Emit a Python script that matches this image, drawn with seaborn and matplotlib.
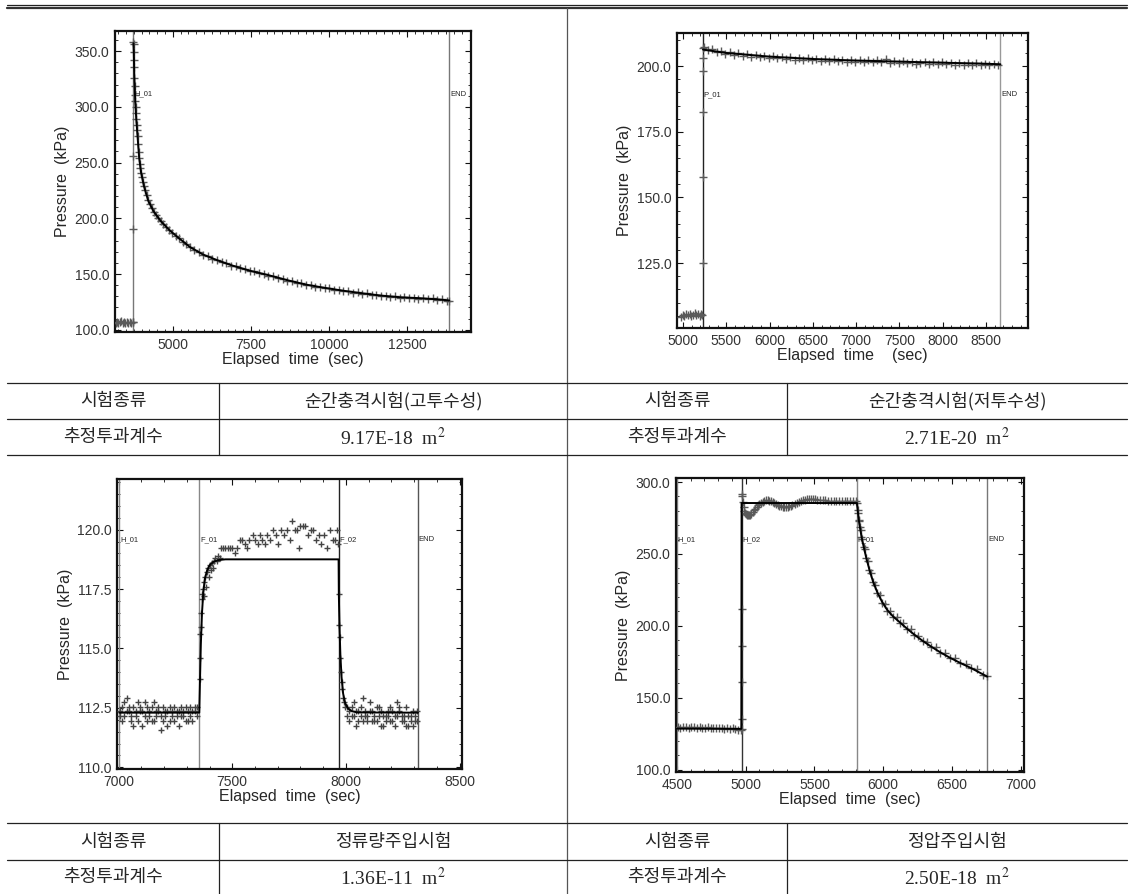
import matplotlib
matplotlib.use("Agg")
import matplotlib.pyplot as plt
from matplotlib.ticker import MultipleLocator, FormatStrFormatter
import seaborn as sns

# ---------------------------------------------------------------- data
# panel 1 : 순간충격시험(고투수성)
p1_base_t = [3170, 3215, 3260, 3305, 3350, 3395, 3440, 3485, 3530, 3575, 3620, 3665, 3710, 3735]
p1_base_p = [106.4, 107.3, 105.9, 106.8, 107.6, 106.1, 106.9, 105.8, 107.2, 106.5, 107.4, 106.0, 106.7, 107.0]
p1_jump_t = [3740, 3740, 3740]
p1_jump_p = [190.5, 256.0, 358.5]
p1_t = [3745, 3750, 3756, 3762, 3770, 3778, 3787, 3796, 3806, 3817, 3829, 3842, 3856, 3871, 3887,
        3904, 3922, 3941, 3962, 3985, 4010, 4040, 4075, 4115, 4160, 4210, 4265, 4325, 4390, 4460,
        4535, 4615, 4700, 4790, 4885, 4985, 5090, 5200, 5315, 5435, 5560, 5690, 5825, 5965,
        6110, 6260, 6410, 6560, 6710, 6860, 7010, 7160, 7310, 7460, 7610, 7760, 7910, 8060, 8210,
        8360, 8510, 8660, 8810, 8960, 9110, 9260, 9410, 9560, 9710, 9860, 10010, 10160, 10310,
        10460, 10610, 10760, 10910, 11060, 11210, 11360, 11510, 11660, 11810, 11960, 12110, 12260,
        12410, 12560, 12710, 12860, 13010, 13160, 13310, 13460, 13610, 13760, 13840]
p1_p = [356.0, 349.5, 342.0, 335.5, 326.0, 318.5, 311.0, 305.5, 300.0, 294.5, 289.5, 284.0, 279.0,
        273.5, 266.5, 259.5, 254.5, 249.0, 245.0, 241.0, 237.0, 233.0, 229.0, 225.0, 220.5, 216.0,
        212.5, 209.0, 206.0, 203.0, 200.0, 197.5, 194.5, 192.0, 189.5, 187.0, 184.5, 182.0, 179.0,
        176.5, 174.0, 171.5, 169.5, 167.5, 166.4, 163.6, 162.9, 160.6, 159.9, 157.6, 157.4, 155.1,
        154.9, 152.6, 152.4, 150.6, 150.4, 148.6, 148.4, 146.1, 145.9, 144.1, 143.9, 142.1, 141.9,
        140.1, 140.4, 138.6, 138.7, 137.2, 137.4, 135.9, 136.0, 134.6, 134.7, 133.3, 133.6, 132.3,
        132.6, 131.3, 131.6, 130.3, 130.7, 129.5, 129.9, 128.8, 129.4, 128.4, 128.9, 128.0, 128.6,
        127.6, 128.1, 126.9, 127.3, 126.1, 126.2]
p1_fit_t = [3740, 3750, 3770, 3796, 3829, 3871, 3922, 3985, 4075, 4210, 4390, 4615, 4885, 5200, 5560,
            5965, 6410, 6860, 7460, 8060, 8660, 9260, 9860, 10460, 11060, 11660, 12260, 12860,
            13460, 13843]
p1_fit_p = [357.0, 349.5, 326.0, 305.5, 289.5, 273.5, 254.5, 241.0, 229.0, 216.0, 206.0, 197.5, 189.5,
            182.0, 174.0, 167.5, 162.5, 158.0, 153.0, 149.0, 144.5, 140.5, 137.6, 135.0, 132.7,
            130.7, 129.2, 128.4, 127.3, 126.3]
p1_events = [3740, 13843]
p1_event_labels = ["H_01", "END"]

# panel 2 : 순간충격시험(저투수성)
p2_base_t = [4975, 4995, 5015, 5035, 5055, 5075, 5095, 5115, 5135, 5155, 5175, 5195, 5210, 5222]
p2_base_p = [104.6, 105.3, 104.9, 105.6, 105.1, 105.8, 104.8, 105.4, 105.9, 105.2, 105.6, 104.9, 105.7, 105.3]
p2_jump_t = [5230, 5230, 5230, 5230, 5230, 5230]
p2_jump_p = [125.0, 157.7, 182.6, 198.3, 203.2, 206.7]
p2_t = [5240, 5290, 5340, 5390, 5440, 5490, 5540, 5590, 5640, 5690, 5740, 5790, 5840, 5890, 5940,
        5990, 6040, 6090, 6140, 6190, 6240, 6290, 6340, 6390, 6440, 6490, 6540, 6590, 6640, 6690,
        6740, 6790, 6840, 6890, 6940, 6990, 7040, 7090, 7140, 7190, 7240, 7290, 7340, 7390, 7440,
        7490, 7540, 7590, 7640, 7690, 7740, 7790, 7840, 7890, 7940, 7990, 8040, 8090, 8140, 8190,
        8240, 8290, 8340, 8390, 8440, 8490, 8540, 8590, 8640]
p2_p = [207.2, 206.0, 206.4, 205.5, 205.9, 204.6, 205.3, 204.2, 204.8, 204.0,
        204.5, 203.6, 204.3, 203.4, 203.9, 203.1, 203.8, 202.9, 203.5, 202.6,
        203.3, 202.5, 203.1, 202.3, 202.9, 202.2, 202.8, 202.0, 202.7, 201.9,
        202.6, 201.8, 202.5, 201.7, 202.4, 201.6, 202.3, 201.5, 202.2, 201.6,
        202.4, 201.4, 202.6, 201.3, 201.9, 201.2, 201.8, 201.1, 201.7, 200.9,
        201.2, 201.6, 200.9, 201.5, 200.8, 201.4, 200.7, 201.3, 200.6, 201.2,
        200.6, 201.1, 200.5, 201.0, 200.4, 200.9, 200.4, 200.8, 200.5]
p2_fit_t = [5230, 5500, 6000, 6500, 7000, 7500, 8000, 8500, 8666]
p2_fit_p = [206.3, 205.0, 203.6, 202.7, 202.1, 201.7, 201.3, 200.9, 200.7]
p2_events = [5230, 8666]
p2_event_labels = ["P_01", "END"]

# panel 3 : 정류량주입시험
p3_base1_t = [7005, 7015, 7025, 7035, 7045, 7055, 7065, 7075, 7085, 7095, 7105, 7115, 7125, 7135,
              7145, 7155, 7165, 7175, 7185, 7195, 7205, 7215, 7225, 7235, 7245, 7255, 7265, 7275,
              7285, 7295, 7305, 7315, 7325, 7335, 7345]
p3_base1_a = [112.36, 112.54, 112.15, 112.92, 112.36, 111.94, 112.54, 112.15, 112.74, 112.36,
              111.75, 112.15, 112.54, 112.36, 111.94, 112.74, 112.15, 112.36, 111.56, 112.54,
              112.15, 112.36, 111.94, 112.15, 112.54, 112.36, 111.75, 112.15, 112.36, 112.54,
              111.94, 112.15, 112.36, 112.54, 112.15]
p3_base1_b = [112.15, 111.94, 112.74, 112.36, 112.54, 112.15, 111.75, 112.36, 111.94, 112.54,
              112.36, 112.74, 111.94, 112.15, 112.54, 111.94, 112.36, 112.54, 112.15, 111.94,
              112.36, 111.75, 112.54, 112.36, 111.94, 112.15, 112.36, 112.54, 112.15, 111.94,
              112.36, 112.54, 111.94, 112.36, 112.54]
p3_rise_t = [7356, 7358, 7360, 7362, 7364, 7366, 7368, 7371, 7374, 7377, 7380, 7384, 7388, 7392,
             7396, 7400, 7405, 7410, 7415, 7420, 7426, 7432, 7438, 7444]
p3_rise_p = [113.7, 114.6, 115.6, 115.9, 116.5, 117.1, 117.3, 117.5, 117.2, 117.8, 118.0, 117.6,
             118.2, 118.4, 118.0, 118.5, 118.3, 118.6, 118.4, 118.7, 118.8, 118.7, 118.9, 118.8]
p3_top_t = [7450, 7460, 7470, 7480, 7490, 7500, 7510, 7520, 7532, 7545, 7556, 7565, 7575, 7590,
            7600, 7612, 7622, 7633, 7645, 7655, 7668, 7680, 7692, 7703, 7715, 7728, 7740, 7752,
            7762, 7775, 7785, 7793, 7800, 7812, 7822, 7833, 7845, 7855, 7868, 7880, 7892, 7905,
            7918, 7930, 7942, 7953, 7960, 7965]
p3_top_p = [119.21, 119.21, 119.21, 119.21, 119.21, 119.21, 119.02, 119.21, 119.58, 119.58,
            119.40, 119.21, 119.58, 119.78, 119.58, 119.40, 119.78, 119.58, 119.40, 119.78,
            119.58, 119.98, 119.78, 119.40, 119.98, 119.78, 119.98, 119.58, 120.38, 119.98,
            119.98, 119.21, 120.17, 120.17, 120.17, 119.78, 119.98, 119.98, 119.58, 119.78,
            119.40, 119.78, 119.21, 119.98, 119.58, 119.58, 119.98, 119.40]
p3_drop_t = [7969, 7971, 7973, 7975, 7978, 7981, 7984, 7988, 7992, 7996]
p3_drop_p = [117.31, 116.0, 115.5, 114.6, 114.0, 113.6, 113.3, 112.92, 112.74, 112.54]
p3_base2_t = [8005, 8015, 8025, 8035, 8045, 8055, 8065, 8075, 8085, 8095, 8105, 8115, 8125, 8135,
              8145, 8155, 8165, 8175, 8185, 8195, 8205, 8215, 8225, 8235, 8245, 8255, 8265, 8275,
              8285, 8295, 8305, 8315]
p3_base2_a = [112.54, 112.36, 112.15, 112.74, 112.36, 111.94, 112.54, 112.92, 112.36, 112.15,
              112.74, 112.36, 111.94, 112.54, 112.15, 112.36, 111.75, 112.15, 112.36, 112.54,
              111.94, 112.15, 112.74, 112.36, 111.94, 112.15, 112.54, 111.75, 112.15, 112.36,
              111.94, 112.36]
p3_base2_b = [112.15, 111.94, 112.54, 112.15, 111.75, 112.36, 112.15, 111.94, 112.15, 111.94,
              112.36, 111.94, 112.15, 111.94, 112.54, 111.75, 112.15, 111.94, 112.15, 111.94,
              112.36, 111.75, 112.15, 112.54, 112.15, 111.94, 111.75, 112.15, 111.94, 111.75,
              112.15, 111.94]
p3_fit_t = [7003, 7355, 7358, 7362, 7367, 7373, 7380, 7390, 7402, 7418, 7440, 7470, 7968, 7969,
            7972, 7976, 7981, 7988, 7997, 8010, 8028, 8050, 8317]
p3_fit_p = [112.3, 112.3, 113.6, 115.2, 116.5, 117.4, 117.95, 118.3, 118.52, 118.65, 118.72, 118.75,
            118.75, 117.3, 115.9, 114.7, 113.8, 113.1, 112.7, 112.47, 112.36, 112.31, 112.3]
p3_events = [7003, 7355, 7968, 8317]
p3_event_labels = ["H_01", "F_01", "F_02", "END"]

# panel 4 : 정압주입시험
p4_base_t = [4505, 4525, 4545, 4565, 4585, 4605, 4625, 4645, 4665, 4685, 4705, 4725, 4745, 4765,
             4785, 4805, 4825, 4845, 4865, 4885, 4905, 4925, 4945, 4965]
p4_base_p = [129.6, 129.2, 129.8, 129.4, 129.0, 129.6, 129.3, 128.9, 129.5, 129.1, 128.8, 129.4,
             128.9, 128.6, 129.2, 128.7, 128.9, 128.4, 128.8, 128.3, 128.6, 128.1, 127.8, 127.3]
p4_jump_t = [4970, 4970, 4970, 4970, 4970, 4970]
p4_jump_p = [128.0, 135.5, 160.8, 185.6, 211.5, 291.6]
p4_top_t = [4975, 4980, 4985, 4990, 4995, 5000, 5008, 5016, 5024, 5032, 5040, 5050, 5060, 5070,
            5080, 5090, 5100, 5112, 5124, 5136, 5148, 5160, 5172, 5184, 5196, 5208, 5220, 5232,
            5244, 5256, 5268, 5280, 5292, 5304, 5316, 5328, 5340, 5355, 5370, 5385, 5400, 5415,
            5430, 5445, 5460, 5475, 5490, 5505, 5520, 5540, 5560, 5580, 5600, 5620, 5640, 5660,
            5680, 5700, 5720, 5740, 5760, 5780, 5800]
p4_top_p = [290.5, 286.0, 282.5, 280.0, 278.5, 277.6, 277.0, 276.8, 277.0, 277.4,
            278.0, 279.0, 280.2, 281.5, 282.7, 283.8, 284.8, 285.7, 286.4, 286.9,
            287.2, 287.3, 287.1, 286.7, 286.1, 285.4, 284.7, 284.0, 283.4, 283.0,
            282.7, 282.6, 282.6, 282.8, 283.1, 283.5, 284.0, 284.7, 285.4, 286.1,
            286.7, 287.2, 287.6, 287.9, 288.1, 288.2, 288.1, 287.9, 287.7, 287.5,
            287.3, 287.2, 287.1, 287.0, 286.9, 286.9, 286.8, 286.8, 286.7, 286.7,
            286.6, 286.6, 286.5]
p4_decay_t = [5810, 5814, 5818, 5822, 5826, 5830, 5836, 5842, 5849, 5857, 5866, 5876, 5887, 5899,
              5912, 5926, 5941, 5957, 5974, 5992, 6011, 6031, 6052, 6074, 6097, 6121, 6146, 6172,
              6199, 6227, 6256, 6286, 6317, 6349, 6382, 6416, 6451, 6487, 6524, 6562, 6601, 6641,
              6682, 6724, 6755]
p4_decay_p = [285.6, 280.2, 278.3, 273.8, 272.6, 268.5, 266.9, 262.0, 260.4, 255.1,
              253.2, 247.4, 245.0, 239.0, 236.6, 230.5, 228.7, 223.0, 221.5, 216.2,
              215.0, 210.4, 210.0, 205.9, 205.8, 202.0, 201.8, 197.7, 197.5, 193.4,
              193.2, 189.3, 189.0, 185.2, 185.0, 181.2, 181.1, 177.4, 177.3, 173.8,
              173.7, 170.3, 169.9, 166.0, 165.4]
p4_fit_t = [4500, 4968, 4970, 5809, 5814, 5822, 5830, 5842, 5857, 5876, 5899, 5926, 5957, 5992,
            6031, 6074, 6121, 6172, 6227, 6286, 6349, 6416, 6487, 6562, 6641, 6724, 6757]
p4_fit_p = [128.5, 128.3, 285.4, 285.4, 280.6, 274.0, 268.8, 262.2, 255.4, 247.6, 239.2, 230.8,
            223.3, 216.6, 210.8, 206.3, 202.4, 198.1, 193.8, 189.6, 185.5, 181.5, 177.7, 174.1,
            170.5, 166.3, 164.6]
p4_events = [4500, 4970, 5809, 6757]
p4_event_labels = ["H_01", "H_02", "F_01", "END"]

# table text
row_labels = ["시험종류", "추정투과계수"]
test_names = ["순간충격시험(고투수성)", "순간충격시험(저투수성)", "정류량주입시험", "정압주입시험"]
perm_values = ["9.17E-18", "2.71E-20", "1.36E-11", "2.50E-18"]

# ---------------------------------------------------------------- style
sns.set_style("ticks")
plt.rcParams["font.family"] = ["Liberation Sans", "DejaVu Sans"]
plt.rcParams["mathtext.fontset"] = "stix"

W, H = 1129, 894
fig = plt.figure(figsize=(W / 100, H / 100), dpi=100)
fig.patch.set_facecolor("white")

# table grid drawn on a full-figure pixel canvas
bg = fig.add_axes([0, 0, 1, 1])
bg.set_xlim(0, W)
bg.set_ylim(H, 0)
bg.axis("off")
bg.plot([7, 1127], [4.5, 4.5], color="#222", lw=0.9)
bg.plot([7, 1127], [7.5, 7.5], color="#333", lw=1.6)
bg.plot([567, 567], [7.5, 894], color="#555", lw=0.9)
for y in [382.7, 419, 455.3, 823.3, 860]:
    bg.plot([7, 1127], [y, y], color="#222", lw=0.9)
for x in [219, 787]:
    bg.plot([x, x], [382.7, 455.3], color="#222", lw=0.9)
    bg.plot([x, x], [823.3, 894], color="#222", lw=0.9)

ko = ["Noto Sans CJK KR", "DejaVu Sans"]
row_y = [(401, 437), (841.6, 877)]
for i in range(4):
    r, c = divmod(i, 2)
    x_lab = 113 if c == 0 else 677
    x_val = 393 if c == 0 else 957
    y1, y2 = row_y[r]
    bg.text(x_lab, y1, row_labels[0], family=ko, fontsize=13, ha="center", va="center")
    bg.text(x_lab, y2, row_labels[1], family=ko, fontsize=13, ha="center", va="center")
    bg.text(x_val, y1, test_names[i], family=ko, fontsize=13, ha="center", va="center")
    bg.text(x_val, y2 + 1, perm_values[i] + r"  m$^{2}$", family=["Liberation Serif"],
            fontsize=14, ha="center", va="center")


def px_rect(x0, y0, x1, y1):
    return [x0 / W, 1 - y1 / H, (x1 - x0) / W, (y1 - y0) / H]


def panel(rect, series, fit_t, fit_p, events, labels, ev_colors, xlim, ylim,
          xmaj, xmin, ymaj, ymin, yticks, xlabel, ms, mcolor):
    ax = fig.add_axes(rect)
    for t, p in series:
        sns.scatterplot(x=t, y=p, marker="+", s=ms, color=mcolor, linewidth=1.0,
                        ax=ax, legend=False, zorder=3)
    sns.lineplot(x=fit_t, y=fit_p, estimator=None, sort=False, color="black",
                 lw=1.4, ax=ax, zorder=4)
    for x, lab, col in zip(events, labels, ev_colors):
        ax.axvline(x, color=col, lw=1.0, zorder=2)
        ax.annotate(lab, (x, 0.79), xycoords=ax.get_xaxis_transform(),
                    xytext=(0.5, 0), textcoords="offset points",
                    fontsize=5.5, ha="left", va="center", zorder=2)
    ax.set_xlim(*xlim)
    ax.set_ylim(*ylim)
    ax.xaxis.set_major_locator(MultipleLocator(xmaj))
    ax.xaxis.set_minor_locator(MultipleLocator(xmin))
    if yticks is not None:
        ax.set_yticks(yticks)
    else:
        ax.yaxis.set_major_locator(MultipleLocator(ymaj))
    ax.yaxis.set_minor_locator(MultipleLocator(ymin))
    ax.yaxis.set_major_formatter(FormatStrFormatter("%.1f"))
    ax.tick_params(which="both", direction="in", top=True, right=True,
                   colors="#111", labelcolor="#333", labelsize=10, pad=4)
    ax.tick_params(which="major", length=4, width=0.8)
    ax.tick_params(which="minor", length=2, width=0.6)
    for s in ax.spines.values():
        s.set_linewidth(1.6)
        s.set_color("#111")
    ax.set_xlabel(xlabel, fontsize=11.5, labelpad=0)
    ax.set_ylabel("Pressure  (kPa)", fontsize=11.5, labelpad=3)
    return ax


panel(px_rect(115, 31, 471, 332),
      [(p1_base_t, p1_base_p), (p1_jump_t, p1_jump_p), (p1_t, p1_p)],
      p1_fit_t, p1_fit_p, p1_events, p1_event_labels, ["#777", "#777"],
      (3150, 14540), (98, 368), 2500, 250, 50, 10, None,
      "Elapsed  time  (sec)", 40, "#5a5a5a")

panel(px_rect(677, 33, 1028, 328),
      [(p2_base_t, p2_base_p), (p2_jump_t, p2_jump_p), (p2_t, p2_p)],
      p2_fit_t, p2_fit_p, p2_events, p2_event_labels, ["#222", "#999"],
      (4930, 8985), (100.3, 212.6), 500, 100, 25, 5, [125, 150, 175, 200],
      "Elapsed  time    (sec)", 34, "#5a5a5a")

panel(px_rect(117, 479, 462, 769),
      [(p3_base1_t, p3_base1_a), (p3_base1_t, p3_base1_b), (p3_rise_t, p3_rise_p),
       (p3_top_t, p3_top_p), (p3_drop_t, p3_drop_p),
       (p3_base2_t, p3_base2_a), (p3_base2_t, p3_base2_b)],
      p3_fit_t, p3_fit_p, p3_events, p3_event_labels, ["#888", "#888", "#222", "#555"],
      (6993, 8511), (109.93, 122.13), 500, 100, 2.5, 0.5, None,
      "Elapsed  time  (sec)", 16, "#444444")

panel(px_rect(676, 478, 1024, 772),
      [(p4_base_t, p4_base_p), (p4_jump_t, p4_jump_p), (p4_top_t, p4_top_p),
       (p4_decay_t, p4_decay_p)],
      p4_fit_t, p4_fit_p, p4_events, p4_event_labels, ["#888", "#333", "#888", "#777"],
      (4493, 7024), (98.3, 302.8), 500, 100, 50, 10, None,
      "Elapsed  time  (sec)", 36, "#5a5a5a")

fig.savefig("out.png", dpi=100, facecolor="white")
